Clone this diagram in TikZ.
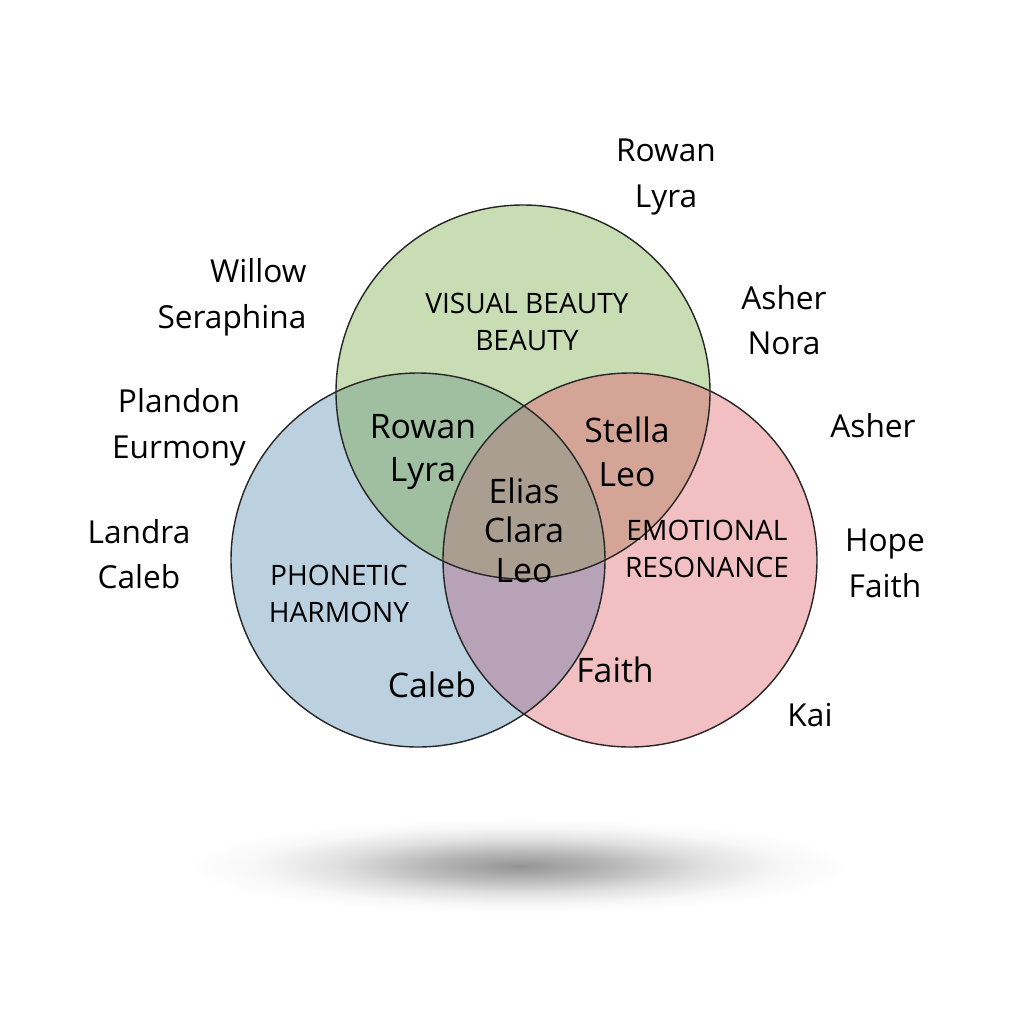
\documentclass[tikz,border=0pt]{standalone}
\usepackage{fontspec}
\setmainfont{Open Sans}
\usepackage{xcolor}
\usetikzlibrary{positioning}
\definecolor{visualgreen}{HTML}{C9DDB5}
\definecolor{phoneticblue}{HTML}{BBD1E0}
\definecolor{emotionpink}{HTML}{F2C0C2}
\definecolor{greenblue}{HTML}{A0BEA0}
\definecolor{greenpink}{HTML}{D4A596}
\definecolor{bluepink}{HTML}{B7A2B8}
\definecolor{allthree}{HTML}{A99E8F}
\pgfdeclareradialshading{softshadow}{\pgfpoint{0bp}{0bp}}{color(0bp)=(black!42); color(7bp)=(black!28); color(14bp)=(black!12); color(20bp)=(black!3); color(25bp)=(white); color(50bp)=(white)}

\begin{document}
\begin{tikzpicture}[x=0.01cm,y=-0.01cm,
  outname/.style={align=center,font=\fontsize{9}{13}\selectfont},
  inname/.style={align=center,font=\fontsize{9.6}{12.5}\selectfont},
  setlabel/.style={align=center,font=\fontsize{8}{10.5}\selectfont}]
  \useasboundingbox (0,0) rectangle (1024,1024);
  \shade[shading=softshadow] (520,866) ellipse (330 and 48);
  \coordinate (V) at (523,392);
  \coordinate (P) at (418,560);
  \coordinate (E) at (630,560);
  \fill[visualgreen] (V) circle (187);
  \fill[phoneticblue] (P) circle (187);
  \fill[emotionpink] (E) circle (187);
  \begin{scope}
    \clip (V) circle (187);
    \fill[greenblue] (P) circle (187);
    \fill[greenpink] (E) circle (187);
  \end{scope}
  \begin{scope}
    \clip (P) circle (187);
    \fill[bluepink] (E) circle (187);
    \clip (E) circle (187);
    \fill[allthree] (V) circle (187);
  \end{scope}
  \foreach \c in {V,P,E}{\draw[line width=0.4pt,black!85] (\c) circle (187);}

  \node[setlabel] (visual) at (527,322) {VISUAL BEAUTY\\BEAUTY};
  \node[setlabel] (phonetic) at (339,594) {PHONETIC\\HARMONY};
  \node[setlabel] (emotional) at (707,549) {EMOTIONAL\\RESONANCE};

  \node[inname] (vp) at (423,452) {Rowan\\Lyra};
  \node[inname] (ve) at (627,452) {Stella\\Leo};
  \node[inname,font=\fontsize{9.6}{11.2}\selectfont] (vpe) at (524,530) {Elias\\Clara\\Leo};
  \node[inname] (ponly) at (432,685) {Caleb};
  \node[inname] (pe) at (615,670) {Faith};

  \node[outname] (topright) at (666,177) {Rowan\\Lyra};
  \node[outname,align=right] (topleft) at (232,297) {Willow\\Seraphina};
  \node[outname] (asnora) at (784,320) {Asher\\Nora};
  \node[outname] (plandon) at (179,427) {Plandon\\Eurmony};
  \node[outname] (asher) at (873,426) {Asher};
  \node[outname] (landra) at (139,554) {Landra\\Caleb};
  \node[outname] (hope) at (885,563) {Hope\\Faith};
  \node[outname] (kai) at (810,715) {Kai};
\end{tikzpicture}
\end{document}
